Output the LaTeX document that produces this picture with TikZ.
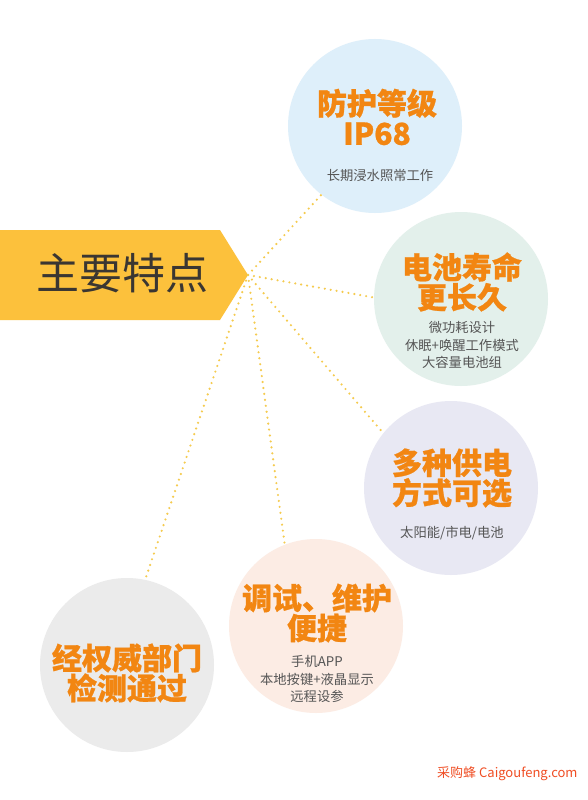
\documentclass[tikz,border=0pt]{standalone}
\usepackage{fontspec}
\newfontfamily\cjk{Noto Sans CJK SC}
\newfontfamily\cjkheavy[FakeBold=0.8]{Noto Sans CJK SC}
\definecolor{bannerorange}{RGB}{252,193,60}
\definecolor{headorange}{RGB}{242,134,18}
\definecolor{titlegray}{RGB}{58,54,50}
\definecolor{subgray}{RGB}{85,85,85}
\definecolor{dotyellow}{RGB}{245,203,78}
\definecolor{markred}{RGB}{240,78,36}
\definecolor{bubbleblue}{RGB}{222,239,250}
\definecolor{bubblegreen}{RGB}{227,240,235}
\definecolor{bubblepurple}{RGB}{232,232,243}
\definecolor{bubblepeach}{RGB}{252,236,228}
\definecolor{bubblegray}{RGB}{235,235,235}
\usetikzlibrary{positioning}

\begin{document}
\begin{tikzpicture}[x=1pt,y=-1pt,
	bubble/.style={circle, minimum size=174pt, inner sep=0pt},
	heading/.style={font=\cjkheavy\bfseries\fontsize{30}{30}\selectfont, text=headorange, align=center},
	subtext/.style={font=\cjk\fontsize{13.3}{17.5}\selectfont, text=subgray, align=center},
	dotline/.style={draw=dotyellow, line width=2.4pt, line cap=round, dash pattern=on 0pt off 6pt}]
			\fill[white] (0,0) rectangle (588,800);
			\useasboundingbox (0,0) rectangle (588,800);
			
			% banner
			\fill[bannerorange] (0,230) -- (220,230) -- (248,275) -- (220,320) -- (0,320) -- cycle;
			\node[font=\cjk\fontsize{43}{43}\selectfont, text=titlegray] (title) at (122,273) {主要特点};
			\coordinate (hub) at (248,275);
			
			% bubbles
			\node[bubble, fill=bubbleblue] (c1) at (375,126) {};
			\node[bubble, fill=bubblegreen] (c2) at (461,299) {};
			\node[bubble, fill=bubblepurple] (c3) at (451,488) {};
			\node[bubble, fill=bubblepeach] (c4) at (316,626) {};
			\node[bubble, fill=bubblegray] (c5) at (127,665) {};
			
			\draw[dotline] (hub) -- (c1.232);
			\draw[dotline] (hub) -- (c2.179);
			\draw[dotline] (hub) -- (c3.141);
			\draw[dotline] (hub) -- (c4.111);
			\draw[dotline] (hub) -- (c5.78);
			
			\node[heading] (h1) at (377,117) {防护等级\\IP68};
			\node[subtext] (s1) at (380,175) {长期浸水照常工作};
			
			\node[heading] (h2) at (462,282) {电池寿命\\更长久};
			\node[subtext] (s2) at (462,345) {微功耗设计\\休眠+唤醒工作模式\\大容量电池组};
			
			\node[heading] (h3) at (452,478) {多种供电\\方式可选};
			\node[subtext] (s3) at (452,533) {太阳能/市电/电池};
			
			\node[heading] (h4) at (317,613) {调试、维护\\便捷};
			\node[subtext] (s4) at (317,679) {手机APP\\本地按键+液晶显示\\远程设参};
			
			\node[heading] (h5) at (127,673) {经权威部门\\检测通过};
			
			\node[font=\cjk\fontsize{13}{13}\selectfont, text=markred, anchor=east] (mark) at (581,774) {采购蜂 Caigoufeng.com};
		\end{tikzpicture}
\end{document}
